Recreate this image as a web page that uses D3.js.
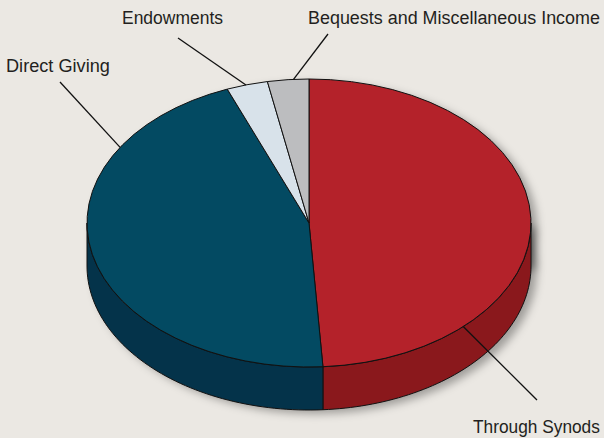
<!DOCTYPE html>
<html lang="en">
<head>
  <meta charset="UTF-8">
  <title></title>
  <style>
    html, body {
      margin: 0;
      overflow: hidden;
      width: 100%;
      height: 100%;
      background: #ebe8e3;
    }

    svg {
      position: absolute;
      top: 0;
      left: 0;
      width: 604px;
      height: 438px;
      background: #ebe8e3;
    }

    text {
      font-family: "Liberation Sans", Arial, sans-serif;
      font-size: 19px;
      fill: #231f20;
    }
  </style>
</head>
<body>
  <svg></svg>
</body>
<script src="https://d3js.org/d3.v7.min.js"></script>
<script type="text/javascript">
  const categories = ['Through Synods', 'Direct Giving', 'Endowments', 'Bequests and Miscellaneous Income']
  const values = [49, 45, 3, 3]
  const topColors = ['#b4222a', '#034a62', '#d8e2ea', '#bcbdbf']
  const sideColors = ['#8a181c', '#04334a', '#aab4bc', '#929395']

  // label placement: where the leader touches the rim (degrees), where it ends, where the text sits, text width
  const labelLayout = [
    { rim: 136, end: [537, 400], text: [473, 433], w: 127 },
    { rim: 301.7, end: [60, 82], text: [6, 72], w: 104 },
    { rim: 343.5, end: [178, 38], text: [122, 24], w: 101 },
    { rim: 356, end: [328, 34], text: [308, 24], w: 292 }
  ]

  const svg = d3.select('svg')

  const cx = 309
  const cy = 223
  const rx = 222
  const ry = 144
  const depth = 43

  const rim = (a, dy = 0) => [cx + rx * Math.sin(a), cy - ry * Math.cos(a) + dy]

  const pie = d3.pie().sort(null).value(d => d.value)
  const slices = pie(values.map((v, i) => ({ name: categories[i], value: v, i })))

  // soft shadow
  const defs = svg.append('defs')
  defs.append('filter')
    .attr('id', 'blur')
    .attr('x', '-20%').attr('y', '-20%').attr('width', '140%').attr('height', '140%')
    .append('feGaussianBlur')
    .attr('stdDeviation', 4)

  const shadow = svg.append('g')
    .attr('filter', 'url(#blur)')
    .attr('fill', 'rgba(0,0,0,0.32)')
  shadow.append('ellipse').attr('cx', cx + 6).attr('cy', cy + 4).attr('rx', rx).attr('ry', ry)
  shadow.append('ellipse').attr('cx', cx + 6).attr('cy', cy + depth + 4).attr('rx', rx).attr('ry', ry)
  shadow.append('rect').attr('x', cx + 6 - rx).attr('y', cy + 4).attr('width', 2 * rx).attr('height', depth)

  // side walls (front half only)
  const sidePath = (a0, a1) => {
    const s = Math.max(a0, Math.PI / 2)
    const e = Math.min(a1, 3 * Math.PI / 2)
    if (e <= s) return null
    const steps = 60
    const pts = d3.range(steps + 1).map(k => rim(s + (e - s) * k / steps))
    const bottom = d3.range(steps + 1).map(k => rim(e - (e - s) * k / steps, depth))
    return 'M' + pts.concat(bottom).map(p => p.join(',')).join('L') + 'Z'
  }

  svg.append('g')
    .selectAll('path')
    .data(slices.filter(d => sidePath(d.startAngle, d.endAngle)))
    .enter()
    .append('path')
    .attr('d', d => sidePath(d.startAngle, d.endAngle))
    .attr('fill', d => sideColors[d.data.i])
    .attr('stroke', '#111')
    .attr('stroke-width', 1)
    .attr('stroke-linejoin', 'round')

  // top face
  const arc = d3.arc().innerRadius(0).outerRadius(rx)
  svg.append('g')
    .attr('transform', `translate(${cx},${cy}) scale(1,${ry / rx})`)
    .selectAll('path')
    .data(slices)
    .enter()
    .append('path')
    .attr('d', arc)
    .attr('fill', d => topColors[d.data.i])
    .attr('stroke', '#111')
    .attr('stroke-width', 1)
    .attr('vector-effect', 'non-scaling-stroke')

  // leaders and labels
  const labels = svg.append('g')
  labelLayout.forEach((l, i) => {
    const p = rim(l.rim * Math.PI / 180)
    labels.append('line')
      .attr('x1', p[0]).attr('y1', p[1])
      .attr('x2', l.end[0]).attr('y2', l.end[1])
      .attr('stroke', '#111')
      .attr('stroke-width', 1.3)
    const t = labels.append('text')
      .text(categories[i])
    // squeeze the text to the narrow face of the original
    const natural = t.node().getComputedTextLength()
    t.attr('transform', `translate(${l.text[0]},${l.text[1]}) scale(${l.w / natural},1)`)
  })
</script>
</html>
